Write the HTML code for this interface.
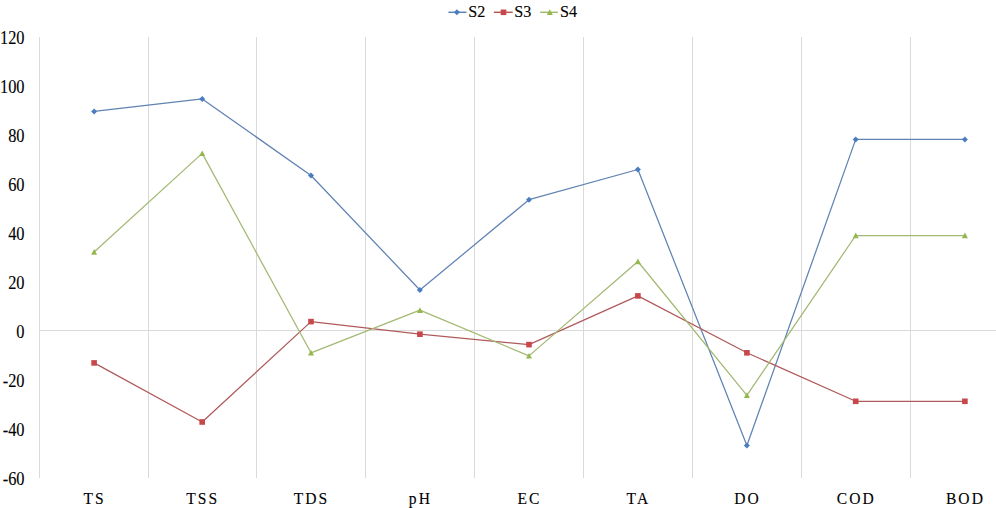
<!DOCTYPE html>
<html><head><meta charset="utf-8"><style>
html,body{margin:0;padding:0;background:#fff;}
body{width:996px;height:508px;overflow:hidden;}
svg{display:block;}
.t{font-family:"Liberation Serif",serif;font-size:17px;fill:#000;stroke:#000;stroke-width:0.12px;}
.xl{letter-spacing:2.3px;font-size:17.3px}
.yl{font-size:18px}
.lg{font-size:17px}
</style></head><body>
<svg width="996" height="508" viewBox="0 0 996 508">
<rect x="39" y="37" width="1" height="441" fill="#D9D9D9"/>
<rect x="148" y="37" width="1" height="441" fill="#D9D9D9"/>
<rect x="256" y="37" width="1" height="441" fill="#D9D9D9"/>
<rect x="365" y="37" width="1" height="441" fill="#D9D9D9"/>
<rect x="474" y="37" width="1" height="441" fill="#D9D9D9"/>
<rect x="583" y="37" width="1" height="441" fill="#D9D9D9"/>
<rect x="692" y="37" width="1" height="441" fill="#D9D9D9"/>
<rect x="801" y="37" width="1" height="441" fill="#D9D9D9"/>
<rect x="910" y="37" width="1" height="441" fill="#D9D9D9"/>
<rect x="39" y="330" width="957" height="1" fill="#D9D9D9"/>
<text transform="translate(24.5,485.14) scale(0.91,1)" text-anchor="end" class="t yl">-60</text>
<text transform="translate(24.5,436.16) scale(0.91,1)" text-anchor="end" class="t yl">-40</text>
<text transform="translate(24.5,387.18) scale(0.91,1)" text-anchor="end" class="t yl">-20</text>
<text transform="translate(24.5,338.20) scale(0.91,1)" text-anchor="end" class="t yl">0</text>
<text transform="translate(24.5,289.22) scale(0.91,1)" text-anchor="end" class="t yl">20</text>
<text transform="translate(24.5,240.24) scale(0.91,1)" text-anchor="end" class="t yl">40</text>
<text transform="translate(24.5,191.26) scale(0.91,1)" text-anchor="end" class="t yl">60</text>
<text transform="translate(24.5,142.28) scale(0.91,1)" text-anchor="end" class="t yl">80</text>
<text transform="translate(24.5,93.30) scale(0.91,1)" text-anchor="end" class="t yl">100</text>
<text transform="translate(24.5,44.32) scale(0.91,1)" text-anchor="end" class="t yl">120</text>
<text transform="translate(94.63,503.6) scale(0.9,1)" text-anchor="middle" class="t xl">TS</text>
<text transform="translate(202.73,503.6) scale(0.9,1)" text-anchor="middle" class="t xl">TSS</text>
<text transform="translate(311.54,503.6) scale(0.9,1)" text-anchor="middle" class="t xl">TDS</text>
<text transform="translate(420.44,503.6) scale(0.9,1)" text-anchor="middle" class="t xl">pH</text>
<text transform="translate(529.53,503.6) scale(0.9,1)" text-anchor="middle" class="t xl">EC</text>
<text transform="translate(638.43,503.6) scale(0.9,1)" text-anchor="middle" class="t xl">TA</text>
<text transform="translate(747.43,503.6) scale(0.9,1)" text-anchor="middle" class="t xl">DO</text>
<text transform="translate(856.24,503.6) scale(0.9,1)" text-anchor="middle" class="t xl">COD</text>
<text transform="translate(965.43,503.6) scale(0.9,1)" text-anchor="middle" class="t xl">BOD</text>
<polyline points="94.10,111.40 202.20,98.90 311.00,175.50 419.90,290.00 529.00,199.70 637.90,169.50 746.90,445.50 855.70,139.40 964.90,139.40" fill="none" stroke="#5F83B2" stroke-width="1.25" stroke-linejoin="round"/>
<polyline points="94.10,362.90 202.20,422.00 311.00,321.60 419.90,334.20 529.00,344.60 637.90,295.90 746.90,352.80 855.70,401.30 964.90,401.30" fill="none" stroke="#B05A5B" stroke-width="1.25" stroke-linejoin="round"/>
<polyline points="94.10,252.00 202.20,153.40 311.00,352.80 419.90,310.20 529.00,355.90 637.90,261.50 746.90,395.30 855.70,235.50 964.90,235.50" fill="none" stroke="#A3B872" stroke-width="1.25" stroke-linejoin="round"/>
<path d="M94.10 108.40L97.10 111.40L94.10 114.40L91.10 111.40Z" fill="#4A7CC0"/>
<path d="M202.20 95.90L205.20 98.90L202.20 101.90L199.20 98.90Z" fill="#4A7CC0"/>
<path d="M311.00 172.50L314.00 175.50L311.00 178.50L308.00 175.50Z" fill="#4A7CC0"/>
<path d="M419.90 287.00L422.90 290.00L419.90 293.00L416.90 290.00Z" fill="#4A7CC0"/>
<path d="M529.00 196.70L532.00 199.70L529.00 202.70L526.00 199.70Z" fill="#4A7CC0"/>
<path d="M637.90 166.50L640.90 169.50L637.90 172.50L634.90 169.50Z" fill="#4A7CC0"/>
<path d="M746.90 442.50L749.90 445.50L746.90 448.50L743.90 445.50Z" fill="#4A7CC0"/>
<path d="M855.70 136.40L858.70 139.40L855.70 142.40L852.70 139.40Z" fill="#4A7CC0"/>
<path d="M964.90 136.40L967.90 139.40L964.90 142.40L961.90 139.40Z" fill="#4A7CC0"/>
<rect x="91.30" y="360.10" width="5.60" height="5.60" fill="#C8474B"/>
<rect x="199.40" y="419.20" width="5.60" height="5.60" fill="#C8474B"/>
<rect x="308.20" y="318.80" width="5.60" height="5.60" fill="#C8474B"/>
<rect x="417.10" y="331.40" width="5.60" height="5.60" fill="#C8474B"/>
<rect x="526.20" y="341.80" width="5.60" height="5.60" fill="#C8474B"/>
<rect x="635.10" y="293.10" width="5.60" height="5.60" fill="#C8474B"/>
<rect x="744.10" y="350.00" width="5.60" height="5.60" fill="#C8474B"/>
<rect x="852.90" y="398.50" width="5.60" height="5.60" fill="#C8474B"/>
<rect x="962.10" y="398.50" width="5.60" height="5.60" fill="#C8474B"/>
<path d="M94.10 249.00L97.10 254.70L91.10 254.70Z" fill="#94B84E"/>
<path d="M202.20 150.40L205.20 156.10L199.20 156.10Z" fill="#94B84E"/>
<path d="M311.00 349.80L314.00 355.50L308.00 355.50Z" fill="#94B84E"/>
<path d="M419.90 307.20L422.90 312.90L416.90 312.90Z" fill="#94B84E"/>
<path d="M529.00 352.90L532.00 358.60L526.00 358.60Z" fill="#94B84E"/>
<path d="M637.90 258.50L640.90 264.20L634.90 264.20Z" fill="#94B84E"/>
<path d="M746.90 392.30L749.90 398.00L743.90 398.00Z" fill="#94B84E"/>
<path d="M855.70 232.50L858.70 238.20L852.70 238.20Z" fill="#94B84E"/>
<path d="M964.90 232.50L967.90 238.20L961.90 238.20Z" fill="#94B84E"/>
<line x1="448.4" y1="12.3" x2="466.5" y2="12.3" stroke="#5F83B2" stroke-width="1.5"/>
<path d="M456.90 9.30L459.90 12.30L456.90 15.30L453.90 12.30Z" fill="#4A7CC0"/>
<text transform="translate(468.3,16.80) scale(0.95,1)" class="t lg">S2</text>
<line x1="493.8" y1="12.3" x2="512.7" y2="12.3" stroke="#B05A5B" stroke-width="1.5"/>
<rect x="500.70" y="9.50" width="5.60" height="5.60" fill="#C8474B"/>
<text transform="translate(514.3,16.80) scale(0.95,1)" class="t lg">S3</text>
<line x1="540.2" y1="12.3" x2="557.8" y2="12.3" stroke="#A3B872" stroke-width="1.5"/>
<path d="M549.80 9.30L552.80 15.00L546.80 15.00Z" fill="#94B84E"/>
<text transform="translate(559.9,16.80) scale(0.95,1)" class="t lg">S4</text>
</svg>
</body></html>
